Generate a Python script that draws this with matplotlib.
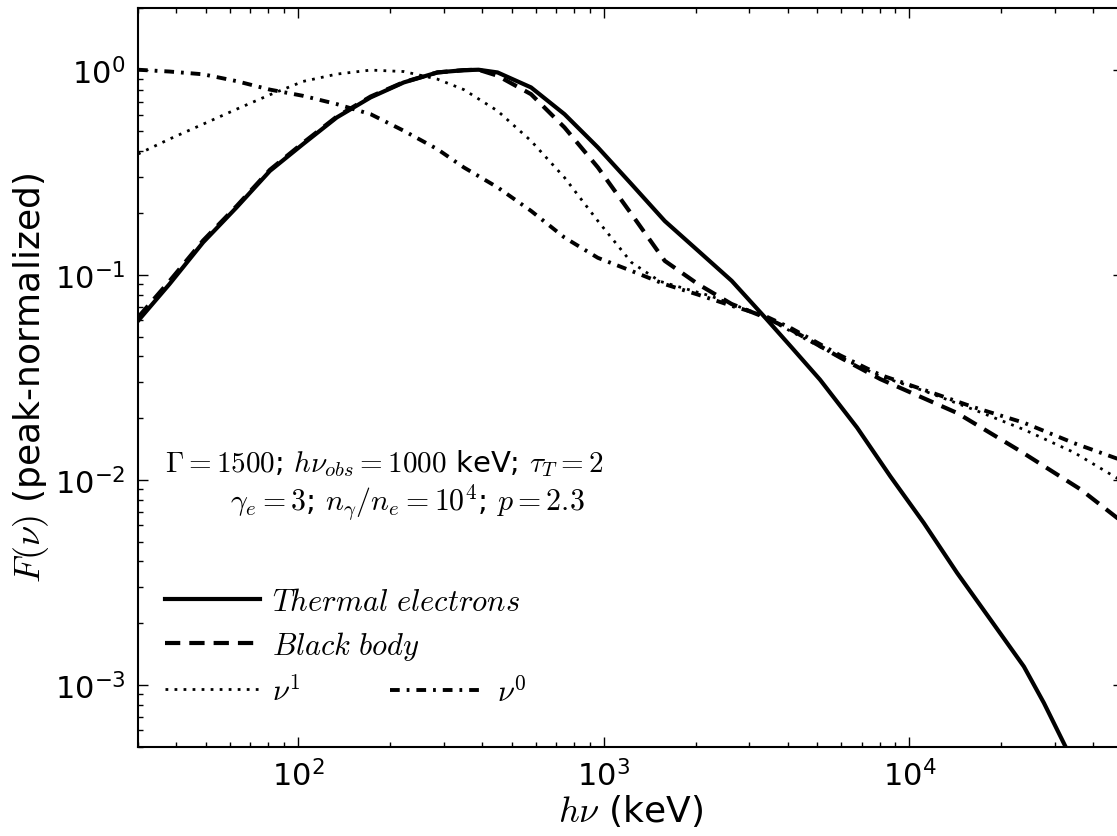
import matplotlib
matplotlib.use('Agg')
import matplotlib.pyplot as plt

plt.rcParams['font.family'] = ['DejaVu Sans']
plt.rcParams['mathtext.fontset'] = 'cm'
plt.rcParams['lines.scale_dashes'] = False

# photon energy (keV) and peak-normalized spectra
e_th = [30, 38, 49, 63, 81, 104, 134, 173, 222, 286, 349, 390, 450, 579, 745, 958,
        1233, 1585, 2038, 2624, 3375, 4125, 5105, 6745, 8670, 11150, 14330,
        18440, 23700, 27560, 32500, 36000]
f_th = [0.0596, 0.090, 0.144, 0.213, 0.321, 0.434, 0.585, 0.733, 0.867, 0.97, 0.995, 1.0,
        0.97, 0.82, 0.607, 0.418, 0.277, 0.183, 0.131, 0.0935, 0.0619, 0.0442,
        0.0308, 0.0180, 0.0104, 0.00617, 0.00352, 0.00208, 0.00123, 0.000817,
        0.000497, 0.000366]

e_bb = [30, 38, 49, 63, 81, 104, 134, 173, 222, 286, 349, 390, 450, 579, 745, 958,
        1233, 1585, 2038, 2624, 3375, 4100, 5940, 8040, 11720, 14330, 23100,
        36400, 50000]
f_bb = [0.062, 0.093, 0.147, 0.216, 0.325, 0.44, 0.59, 0.74, 0.87, 0.97, 0.995, 1.0,
        0.935, 0.76, 0.523, 0.334, 0.198, 0.117, 0.09, 0.072, 0.062, 0.054,
        0.0395, 0.031, 0.0242, 0.0212, 0.0138, 0.00897, 0.0062]

e_nu1 = [30, 38, 49, 63, 81, 104, 134, 173, 222, 286, 349, 450, 579, 745, 958,
         1233, 1527, 2228, 3250, 4100, 5940, 8040, 11150, 16260, 23700, 34600, 50000]
f_nu1 = [0.388, 0.459, 0.543, 0.642, 0.755, 0.877, 0.952, 0.996, 0.98, 0.90, 0.80,
         0.63, 0.45, 0.298, 0.183, 0.115, 0.093, 0.079, 0.064, 0.053, 0.0395,
         0.032, 0.0272, 0.0220, 0.0176, 0.0136, 0.0098]

e_nu0 = [30, 38, 49, 63, 81, 104, 134, 173, 222, 286, 349, 450, 579, 745, 958,
         1233, 1585, 2038, 2624, 3375, 4100, 5940, 8040, 11150, 16260, 23700,
         34600, 50000]
f_nu0 = [1.0, 0.98, 0.95, 0.88, 0.80, 0.746, 0.68, 0.607, 0.504, 0.41, 0.334,
         0.267, 0.205, 0.152, 0.121, 0.1045, 0.09, 0.080, 0.0706, 0.063, 0.055,
         0.0405, 0.0325, 0.0275, 0.0226, 0.019, 0.0151, 0.0124]

fig = plt.figure(figsize=(11.17, 8.37), dpi=100)
ax = fig.add_axes([138 / 1117, (837 - 747.7) / 837, (1123 - 138) / 1117, 738.7 / 837])

l_th, = ax.plot(e_th, f_th, color='k', lw=3, label=r'$Thermal\ electrons$')
l_bb, = ax.plot(e_bb, f_bb, color='k', lw=3, dashes=[11, 6.5], label=r'$Black\ body$')
l_n1, = ax.plot(e_nu1, f_nu1, color='k', lw=2.0, dashes=[2, 4.5], label=r'$\nu^1$')
l_n0, = ax.plot(e_nu0, f_nu0, color='k', lw=2.8, dashes=[7, 5, 2, 5], label=r'$\nu^0$')

ax.set_xscale('log')
ax.set_yscale('log')
ax.set_xlim(30, 5e4)
ax.set_ylim(5e-4, 2)

ax.tick_params(which='both', direction='in', top=True, right=True, labelsize=22)
ax.tick_params(which='major', length=7, width=1, pad=9)
ax.tick_params(which='minor', length=3.5, width=1)
for s in ax.spines.values():
    s.set_linewidth(1.5)

ax.set_xlabel(r'$h\nu$ (keV)', fontsize=26)
ax.set_ylabel(r'$F(\nu)$ (peak-normalized)', fontsize=26)
ax.xaxis.set_label_coords(0.5, -0.062)
ax.yaxis.set_label_coords(-0.088, 0.5)

ax.text(0.0274, 0.373, r'$\Gamma=1500$; $h\nu_{obs}=1000$ keV; $\tau_T=2$',
        transform=ax.transAxes, fontsize=21, va='baseline')
ax.text(0.0934, 0.320, r'$\gamma_e=3$; $n_\gamma/n_e=10^4$; $p=2.3$',
        transform=ax.transAxes, fontsize=21.5, va='baseline')

leg1 = ax.legend(handles=[l_th, l_bb, l_n1], loc='upper left',
                 bbox_to_anchor=(0.0274, 0.216), frameon=False, fontsize=22,
                 handlelength=3.1, handletextpad=0.4, labelspacing=0.42,
                 borderpad=0, borderaxespad=0)
ax.add_artist(leg1)
ax.legend(handles=[l_n0], loc='center left', bbox_to_anchor=(0.256, 0.075),
          frameon=False, fontsize=22, handlelength=3.1, handletextpad=0.4,
          borderpad=0, borderaxespad=0)

fig.savefig('out.png', dpi=100)
